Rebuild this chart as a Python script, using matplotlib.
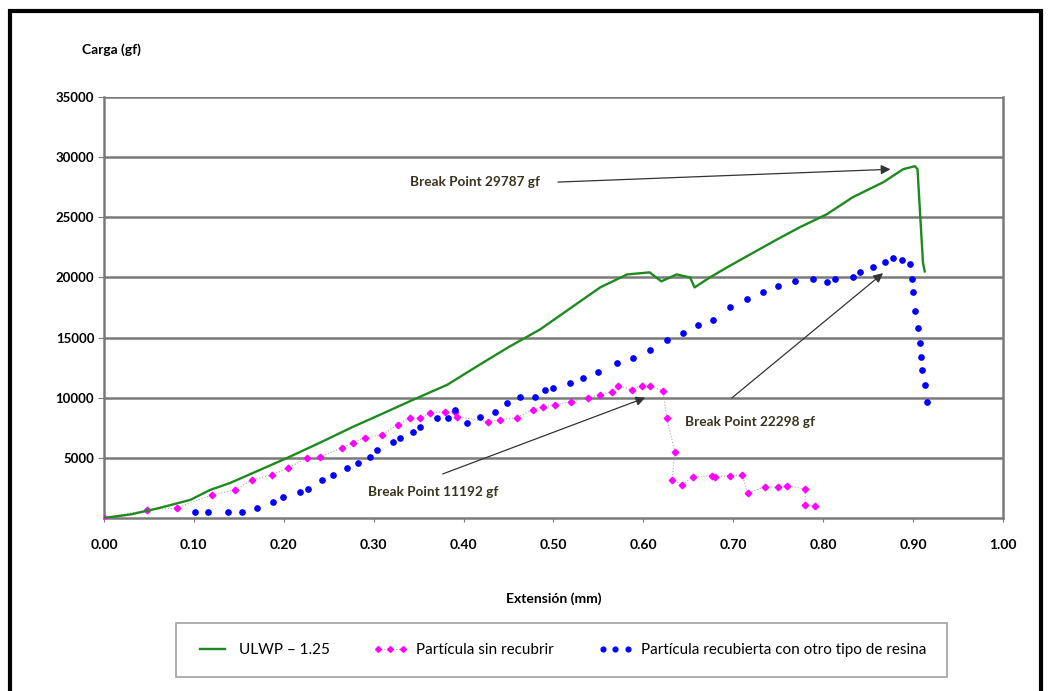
import matplotlib.pyplot as plt
from matplotlib.patches import Rectangle

plt.switch_backend('agg')
plt.rcParams['font.family'] = ['Lato', 'DejaVu Sans']

# ULWP - 1.25
ulwp_x = [0.0, 0.03, 0.06, 0.096, 0.118, 0.14, 0.166, 0.204, 0.24, 0.277, 0.307, 0.344,
          0.382, 0.418, 0.45, 0.485, 0.52, 0.552, 0.582, 0.607, 0.62, 0.637, 0.652, 0.657,
          0.674, 0.693, 0.719, 0.749, 0.774, 0.804, 0.833, 0.867, 0.889, 0.902, 0.905,
          0.908, 0.91, 0.911, 0.913]
ulwp_y = [0, 300, 800, 1500, 2330, 2900, 3750, 5000, 6250, 7580, 8580, 9830,
          11080, 12750, 14200, 15670, 17500, 19170, 20250, 20420, 19670, 20250, 20000, 19170,
          20000, 20830, 21920, 23170, 24170, 25250, 26670, 27920, 29000, 29250, 29000,
          25080, 22580, 21250, 20500]

# Particula sin recubrir
sin_x = [0.0, 0.048, 0.081, 0.12, 0.146, 0.165, 0.187, 0.205, 0.226, 0.24, 0.265, 0.277,
         0.29, 0.309, 0.327, 0.34, 0.352, 0.363, 0.379, 0.39, 0.393, 0.427, 0.44, 0.459,
         0.477, 0.488, 0.502, 0.52, 0.538, 0.552, 0.565, 0.572, 0.587, 0.598, 0.607, 0.622,
         0.626, 0.635, 0.632, 0.643, 0.655, 0.676, 0.68, 0.696, 0.71, 0.716, 0.735, 0.75,
         0.76, 0.78, 0.78, 0.791]
sin_y = [0, 670, 830, 1920, 2330, 3170, 3580, 4170, 5000, 5080, 5830, 6250,
         6670, 6920, 7750, 8330, 8330, 8750, 8830, 8830, 8420, 8000, 8170, 8330,
         9000, 9250, 9420, 9670, 10000, 10250, 10500, 11000, 10670, 11000, 11000, 10580,
         8330, 5500, 3170, 2750, 3420, 3500, 3420, 3500, 3580, 2080, 2580, 2580,
         2670, 2420, 1080, 1000]

# Particula recubierta con otro tipo de resina
rec_x = [0.101, 0.116, 0.138, 0.153, 0.17, 0.188, 0.199, 0.218, 0.227, 0.242, 0.255, 0.27,
         0.283, 0.296, 0.304, 0.321, 0.329, 0.344, 0.352, 0.37, 0.383, 0.39, 0.404, 0.418,
         0.435, 0.448, 0.463, 0.479, 0.491, 0.5, 0.518, 0.533, 0.55, 0.571, 0.588, 0.607,
         0.626, 0.644, 0.661, 0.677, 0.696, 0.715, 0.733, 0.75, 0.769, 0.789, 0.804, 0.813,
         0.833, 0.841, 0.855, 0.869, 0.878, 0.888, 0.897, 0.899, 0.9, 0.902, 0.905, 0.908,
         0.909, 0.91, 0.913, 0.915]
rec_y = [500, 500, 500, 500, 830, 1330, 1750, 2170, 2420, 3170, 3580, 4170,
         4580, 5080, 5670, 6330, 6670, 7170, 7580, 8330, 8330, 9000, 7920, 8420,
         8830, 9580, 10080, 10080, 10670, 10830, 11250, 11670, 12170, 12920, 13330, 14000,
         14830, 15420, 16080, 16500, 17500, 18170, 18750, 19250, 19670, 19830, 19580, 19830,
         20000, 20420, 20830, 21250, 21580, 21420, 21080, 19830, 18750, 17170, 15830, 14580,
         13420, 12330, 11080, 9670]

x_ticks = [0.0, 0.1, 0.2, 0.3, 0.4, 0.5, 0.6, 0.7, 0.8, 0.9, 1.0]
y_ticks = [5000, 10000, 15000, 20000, 25000, 30000, 35000]

# break points: (label, text pos, arrow start, arrow end)
breaks = [
    ('Break Point 29787 gf', (0.340, 27920), (0.502, 27920), (0.878, 29000)),
    ('Break Point 22298 gf', (0.646, 8000), (0.696, 9830), (0.869, 20500)),
    ('Break Point 11192 gf', (0.294, 2170), (0.374, 3580), (0.605, 10080)),
]

fig = plt.figure(figsize=(10.48, 6.91), dpi=100)
ax = fig.add_axes([0.0992, 0.2504, 0.8578, 0.6092])

for y in y_ticks:
    ax.axhline(y, color='#7a7a7a', linewidth=1.8, zorder=1)

ax.plot(ulwp_x, ulwp_y, color='#1f8a1f', linewidth=1.7, label='ULWP \u2013 1.25', zorder=4)
ax.plot(sin_x, sin_y, color='#aaaaaa', linewidth=0.8, linestyle=':', marker='D',
        markersize=3.3, markerfacecolor='#ff00ff', markeredgecolor='#ff00ff',
        label='Part\u00edcula sin recubrir', zorder=3)
ax.plot(rec_x, rec_y, color='#0000ff', linewidth=0, marker='o', markersize=3.8,
        label='Part\u00edcula recubierta con otro tipo de resina', zorder=3)

for label, tpos, start, end in breaks:
    ax.annotate('', xy=end, xytext=start,
                arrowprops=dict(arrowstyle='-|>', color='#333333', lw=0.9,
                                mutation_scale=14), zorder=5)
    ax.text(tpos[0], tpos[1], label, fontsize=9.8, fontweight='bold',
            color='#3a3320', va='center', ha='left')

ax.set_xlim(0, 1.0)
ax.set_ylim(0, 35000)
ax.set_xticks(x_ticks)
ax.set_xticklabels([f'{v:.2f}' for v in x_ticks])
ax.set_yticks(y_ticks)
ax.tick_params(axis='x', length=3, color='#7a7a7a', labelsize=10, pad=12)
ax.tick_params(axis='y', length=4, color='#7a7a7a', labelsize=9.5, pad=3)
for lab in ax.get_xticklabels() + ax.get_yticklabels():
    lab.set_fontweight('bold')

for side in ['left', 'right', 'bottom']:
    ax.spines[side].set_color('#7a7a7a')
    ax.spines[side].set_linewidth(1.8)
ax.spines['top'].set_visible(False)

ax.set_xlabel('Extensi\u00f3n (mm)', fontsize=10, fontweight='bold', labelpad=30)
fig.text(82 / 1048, 1 - 50 / 691, 'Carga (gf)', fontsize=10, fontweight='bold',
         ha='left', va='center')

leg = fig.legend(loc='center', bbox_to_anchor=(0.5355, 0.0593), ncol=3,
                 fontsize=11, frameon=True, fancybox=False, edgecolor='#888888',
                 borderpad=1.3, handlelength=2.2, handletextpad=0.6,
                 columnspacing=2.9, numpoints=3, markerscale=0.9)
leg.get_frame().set_linewidth(1.2)

# outer border
fig.patches.append(Rectangle((0.0095, -0.02), 0.984, 1.004, transform=fig.transFigure,
                             fill=False, edgecolor='black', linewidth=3))

fig.savefig('out.png', dpi=100)
